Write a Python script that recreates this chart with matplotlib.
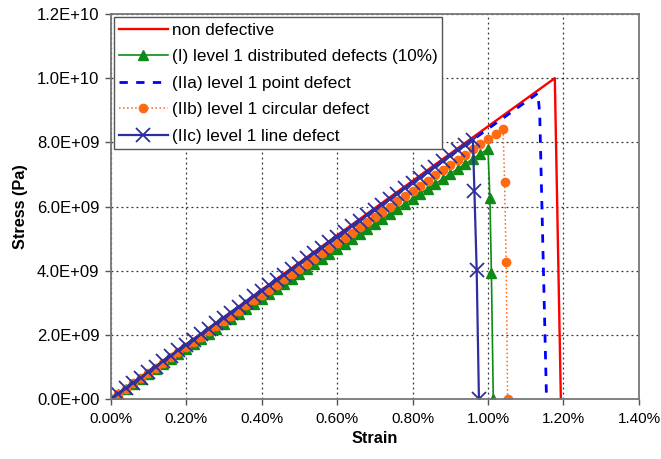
import numpy as np
import matplotlib.pyplot as plt
from matplotlib.ticker import FuncFormatter

plt.rcParams['font.family'] = ['Liberation Sans', 'DejaVu Sans']

# strain (%) of the ramp points, shared by the marker series
strain_grid = [0.00, 0.02, 0.04, 0.06, 0.08, 0.10, 0.12, 0.14, 0.16, 0.18,
               0.20, 0.22, 0.24, 0.26, 0.28, 0.30, 0.32, 0.34, 0.36, 0.38,
               0.40, 0.42, 0.44, 0.46, 0.48, 0.50, 0.52, 0.54, 0.56, 0.58,
               0.60, 0.62, 0.64, 0.66, 0.68, 0.70, 0.72, 0.74, 0.76, 0.78,
               0.80, 0.82, 0.84, 0.86, 0.88, 0.90, 0.92, 0.94, 0.96, 0.98,
               1.00, 1.02, 1.04]

# stress in 1E9 Pa
red_x = [0.0, 1.177, 1.193]
red_y = [0.0, 10.0, 0.0]

green_ramp = [0, 0.16, 0.31, 0.47, 0.62, 0.78, 0.94, 1.09, 1.25, 1.40,
              1.56, 1.72, 1.87, 2.03, 2.18, 2.34, 2.50, 2.65, 2.81, 2.96,
              3.12, 3.28, 3.43, 3.59, 3.74, 3.90, 4.06, 4.21, 4.37, 4.52,
              4.68, 4.84, 4.99, 5.15, 5.30, 5.46, 5.62, 5.77, 5.93, 6.08,
              6.24, 6.40, 6.55, 6.71, 6.86, 7.02, 7.18, 7.33, 7.49, 7.64, 7.80]
green_drop_x = [1.005, 1.009, 1.014]
green_drop_y = [6.26, 3.94, 0.0]

blue_x = [0.0, 1.132, 1.137, 1.155]
blue_y = [0.0, 9.53, 8.90, 0.0]

orange_ramp = [0, 0.16, 0.32, 0.49, 0.65, 0.81, 0.97, 1.13, 1.30, 1.46,
               1.62, 1.78, 1.94, 2.11, 2.27, 2.43, 2.59, 2.75, 2.92, 3.08,
               3.24, 3.40, 3.56, 3.73, 3.89, 4.05, 4.21, 4.37, 4.54, 4.70,
               4.86, 5.02, 5.18, 5.35, 5.51, 5.67, 5.83, 5.99, 6.16, 6.32,
               6.48, 6.64, 6.80, 6.97, 7.13, 7.29, 7.45, 7.61, 7.78, 7.94,
               8.10, 8.26, 8.42]
orange_drop_x = [1.044, 1.048, 1.052]
orange_drop_y = [6.75, 4.26, 0.0]

navy_ramp = [0, 0.17, 0.34, 0.51, 0.67, 0.84, 1.01, 1.18, 1.35, 1.52,
             1.68, 1.85, 2.02, 2.19, 2.36, 2.53, 2.69, 2.86, 3.03, 3.20,
             3.37, 3.54, 3.70, 3.87, 4.04, 4.21, 4.38, 4.55, 4.72, 4.88,
             5.05, 5.22, 5.39, 5.56, 5.73, 5.89, 6.06, 6.23, 6.40, 6.57,
             6.74, 6.90, 7.07, 7.24, 7.41, 7.58, 7.75, 7.91, 8.08]
navy_drop_x = [0.964, 0.970, 0.976]
navy_drop_y = [6.48, 4.02, 0.0]

labels = ['non defective',
          '(I) level 1 distributed defects (10%)',
          '(IIa) level 1 point defect',
          '(IIb) level 1 circular defect',
          '(IIc) level 1 line defect']

x_ticks = [0.0, 0.2, 0.4, 0.6, 0.8, 1.0, 1.2, 1.4]
y_ticks = [0, 2, 4, 6, 8, 10, 12]


def series(ramp, dx, dy):
    xs = strain_grid[:len(ramp)] + dx
    ys = ramp + dy
    return xs, ys


fig = plt.figure(figsize=(6.61, 4.59), dpi=100)
ax = fig.add_axes([0.1672, 0.1307, 0.7995, 0.8388])

ax.plot(red_x, red_y, color='#ff0000', lw=1.7, label=labels[0])
gx, gy = series(green_ramp, green_drop_x, green_drop_y)
ax.plot(gx, gy, color='#0e8a16', lw=1.2, marker='^', ms=7.5, label=labels[1])
ax.plot(blue_x, blue_y, color='#0000ff', lw=2, ls=(0, (3, 3)), label=labels[2])
ox, oy = series(orange_ramp, orange_drop_x, orange_drop_y)
ax.plot(ox, oy, color='#ff6a13', lw=1.1, ls=':', marker='o', ms=6,
        label=labels[3])
nx, ny = series(navy_ramp, navy_drop_x, navy_drop_y)
ax.plot(nx, ny, color='#2e2e9e', lw=1.6, marker='x', ms=10, mew=1.3,
        label=labels[4])

ax.set_xlim(0, 1.4)
ax.set_ylim(0, 12)
ax.set_xticks(x_ticks)
ax.set_yticks(y_ticks)
ax.xaxis.set_major_formatter(FuncFormatter(lambda v, p: '%.2f%%' % v))
ax.yaxis.set_major_formatter(FuncFormatter(lambda v, p: '%.1E' % (v * 1e9)))
ax.tick_params(labelsize=12, length=4, width=1, color='#555555', pad=4)
ax.tick_params(axis='x', labelsize=11, pad=5)
ax.grid(True, ls=(0, (1.5, 2.5)), color='#333333', lw=0.9)
for s in ax.spines.values():
    s.set_color('#777777')
    s.set_linewidth(1.3)

ax.set_xlabel('Strain', fontsize=11.7, fontweight='bold', labelpad=4)
ax.set_ylabel('Stress (Pa)', fontsize=11.7, fontweight='bold', labelpad=6)

leg = ax.legend(loc='upper left', fontsize=12.3, handlelength=2.85,
                borderaxespad=0.2, fancybox=False, framealpha=1,
                edgecolor='#555555', labelspacing=0.68, handletextpad=0.22,
                borderpad=0.3)
leg.get_frame().set_linewidth(1.0)

fig.savefig('out.png', dpi=100)
